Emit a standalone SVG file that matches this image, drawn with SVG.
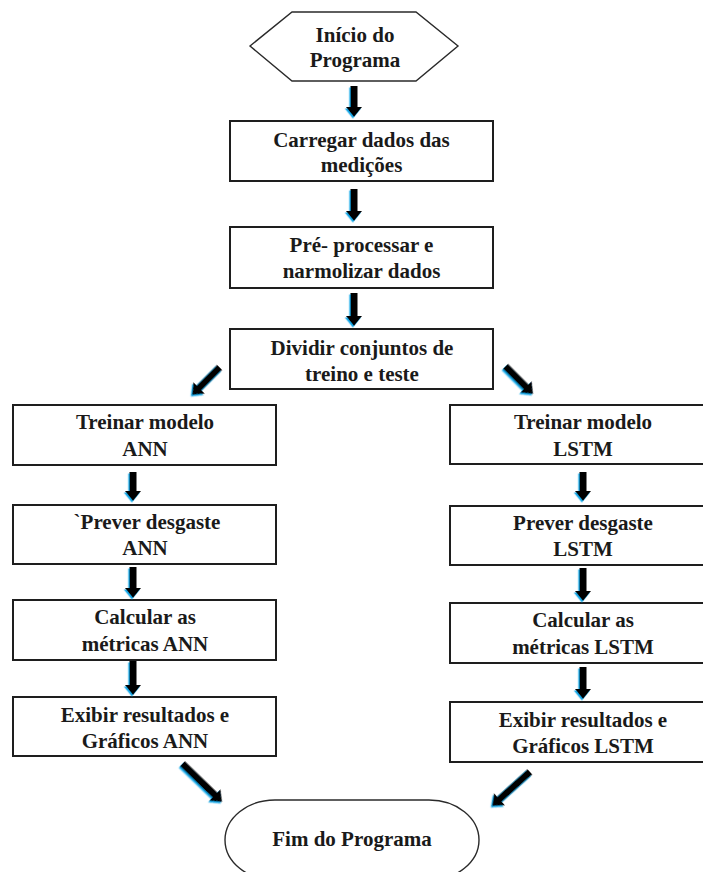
<svg xmlns="http://www.w3.org/2000/svg" width="703" height="872" viewBox="0 0 703 872">
  <defs>
    <style>
      .box { fill: #ffffff; stroke: #1e1e1e; stroke-width: 2; }
      .term { fill: #ffffff; stroke: #2a2a2a; stroke-width: 1.4; }
      .lbl { font-family: "Liberation Serif", "Times New Roman", serif; font-weight: bold; font-size: 21px; fill: #1a1a1a; text-anchor: middle; }
      .arrow { fill: #000000; }
    </style>
    <filter id="blueEdge" x="-50%" y="-50%" width="200%" height="200%">
      <feDropShadow dx="-1.2" dy="1.5" stdDeviation="0.4" flood-color="#12a8e8" flood-opacity="1"/>
    </filter>
  </defs>
  <rect width="703" height="872" fill="#ffffff"/>

  <!-- start -->
  <g id="inicio">
    <polygon class="term" points="250,46 292,12 416,12 458,46 416,81 292,81"/>
    <text class="lbl" x="355" y="42">Início do</text>
    <text class="lbl" x="355" y="67">Programa</text>
  </g>

  <g id="carregar">
    <rect class="box" x="230" y="121" width="263" height="60"/>
    <text class="lbl" x="361.5" y="147">Carregar dados das</text>
    <text class="lbl" x="361.5" y="172">medições</text>
  </g>

  <g id="preprocessar">
    <rect class="box" x="230" y="227" width="263" height="61"/>
    <text class="lbl" x="361.5" y="252">Pré- processar e</text>
    <text class="lbl" x="361.5" y="278">narmolizar dados</text>
  </g>

  <g id="dividir">
    <rect class="box" x="230" y="329" width="263" height="60"/>
    <text class="lbl" x="362" y="355">Dividir conjuntos de</text>
    <text class="lbl" x="362" y="381">treino e teste</text>
  </g>

  <!-- ANN branch -->
  <g id="treinar-ann">
    <rect class="box" x="13" y="405" width="263" height="60"/>
    <text class="lbl" x="145" y="429">Treinar modelo</text>
    <text class="lbl" x="145" y="456">ANN</text>
  </g>
  <g id="prever-ann">
    <rect class="box" x="13" y="505" width="263" height="59"/>
    <text class="lbl" x="147" y="529">`Prever desgaste</text>
    <text class="lbl" x="145" y="555">ANN</text>
  </g>
  <g id="metricas-ann">
    <rect class="box" x="13" y="600" width="263" height="60"/>
    <text class="lbl" x="145" y="624">Calcular as</text>
    <text class="lbl" x="145" y="651">métricas ANN</text>
  </g>
  <g id="exibir-ann">
    <rect class="box" x="13" y="697" width="263" height="59"/>
    <text class="lbl" x="145" y="722">Exibir resultados e</text>
    <text class="lbl" x="145" y="748">Gráficos ANN</text>
  </g>

  <!-- LSTM branch -->
  <g id="treinar-lstm">
    <rect class="box" x="450" y="405" width="266" height="59"/>
    <text class="lbl" x="583" y="429">Treinar modelo</text>
    <text class="lbl" x="583" y="456">LSTM</text>
  </g>
  <g id="prever-lstm">
    <rect class="box" x="450" y="506" width="266" height="59"/>
    <text class="lbl" x="583" y="530">Prever desgaste</text>
    <text class="lbl" x="583" y="556">LSTM</text>
  </g>
  <g id="metricas-lstm">
    <rect class="box" x="450" y="603" width="266" height="60"/>
    <text class="lbl" x="583" y="627">Calcular as</text>
    <text class="lbl" x="583" y="654">métricas LSTM</text>
  </g>
  <g id="exibir-lstm">
    <rect class="box" x="450" y="702" width="266" height="60"/>
    <text class="lbl" x="583" y="727">Exibir resultados e</text>
    <text class="lbl" x="583" y="753">Gráficos LSTM</text>
  </g>

  <!-- end -->
  <g id="fim">
    <rect class="term" x="225" y="800" width="254" height="80" rx="50" ry="40"/>
    <text class="lbl" x="352" y="846">Fim do Programa</text>
  </g>

  <!-- block arrows, drawn pointing down with the tip at the local origin -->
  <g id="connectors" filter="url(#blueEdge)">
    <path class="arrow" transform="translate(354,117)" d="M-3.5,-31 H3.5 V-10 H8 L0,0 L-8,-10 H-3.5 Z"/>
    <path class="arrow" transform="translate(354,221)" d="M-3.5,-32 H3.5 V-10 H8 L0,0 L-8,-10 H-3.5 Z"/>
    <path class="arrow" transform="translate(354,326)" d="M-3.5,-33 H3.5 V-10 H8 L0,0 L-8,-10 H-3.5 Z"/>
    <path class="arrow" transform="translate(192,395) rotate(45)" d="M-3.5,-39 H3.5 V-10 H8 L0,0 L-8,-10 H-3.5 Z"/>
    <path class="arrow" transform="translate(533,394) rotate(-45)" d="M-3.5,-39 H3.5 V-10 H8 L0,0 L-8,-10 H-3.5 Z"/>
    <path class="arrow" transform="translate(133,501)" d="M-3.5,-29 H3.5 V-10 H8 L0,0 L-8,-10 H-3.5 Z"/>
    <path class="arrow" transform="translate(133,598)" d="M-3.5,-31 H3.5 V-10 H8 L0,0 L-8,-10 H-3.5 Z"/>
    <path class="arrow" transform="translate(133,695)" d="M-3.5,-34 H3.5 V-10 H8 L0,0 L-8,-10 H-3.5 Z"/>
    <path class="arrow" transform="translate(583,501)" d="M-3.5,-29 H3.5 V-10 H8 L0,0 L-8,-10 H-3.5 Z"/>
    <path class="arrow" transform="translate(583,601)" d="M-3.5,-33 H3.5 V-10 H8 L0,0 L-8,-10 H-3.5 Z"/>
    <path class="arrow" transform="translate(583,699)" d="M-3.5,-32 H3.5 V-10 H8 L0,0 L-8,-10 H-3.5 Z"/>
    <path class="arrow" transform="translate(222,802) rotate(-46)" d="M-3.5,-55 H3.5 V-10 H8 L0,0 L-8,-10 H-3.5 Z"/>
    <path class="arrow" transform="translate(492,806) rotate(48)" d="M-3.5,-51 H3.5 V-10 H8 L0,0 L-8,-10 H-3.5 Z"/>
  </g>
</svg>
